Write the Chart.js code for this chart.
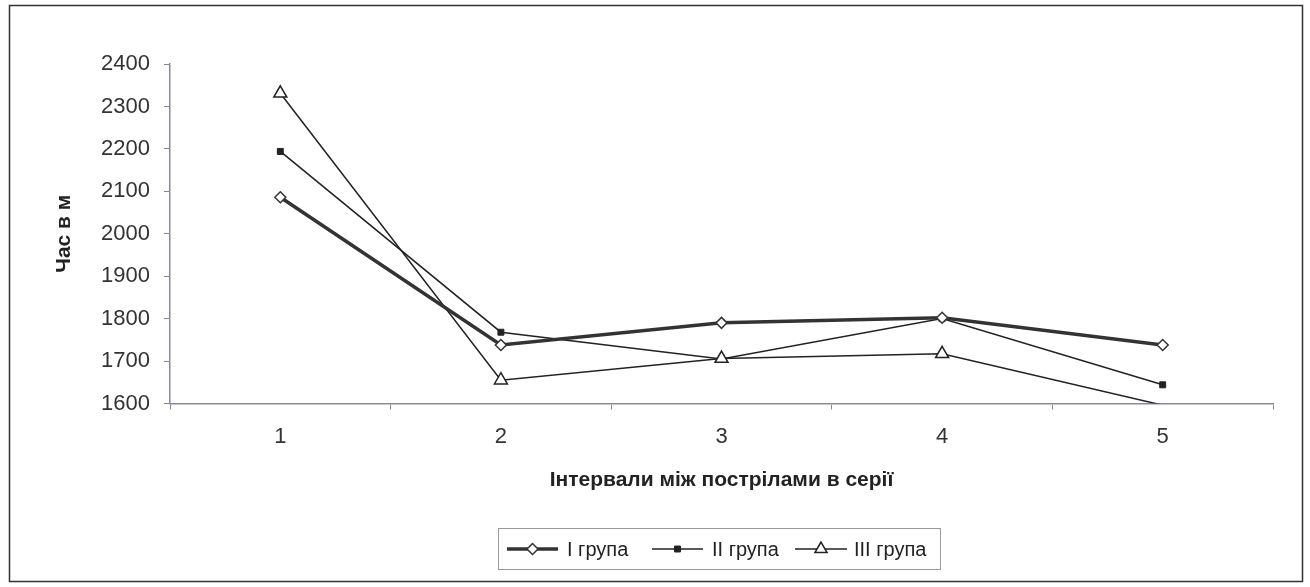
<!DOCTYPE html>
<html>
<head>
<meta charset="utf-8">
<script src="https://cdn.jsdelivr.net/npm/chart.js@4.4.0/dist/chart.umd.min.js"></script>
<style>
  html, body { margin: 0; padding: 0; background: #fff; }
  #wrap { width: 1310px; height: 587px; }
</style>
</head>
<body>
<div id="wrap"><canvas id="lineChart" width="1310" height="587"></canvas></div>
<script>
// data
const intervals = ['1', '2', '3', '4', '5'];
const group1 = [2086, 1738, 1790, 1802, 1738];
const group2 = [2194, 1768, 1705, 1800, 1644];
const group3 = [2331, 1655, 1706, 1717, 1596];
const seriesNames = ['I група', 'II група', 'III група'];
const yTicks = [1600, 1700, 1800, 1900, 2000, 2100, 2200, 2300, 2400];

const FONT = "'Liberation Sans', Arial, sans-serif";

// frame round the whole chart + Excel style legend under it
const framePlugin = {
  id: 'frameAndLegend',
  afterDraw(chart) {
    const ctx = chart.ctx;
    ctx.save();
    ctx.strokeStyle = '#333';
    ctx.lineWidth = 1.5;
    ctx.strokeRect(9.5, 5.5, 1293, 576);

    // legend box
    ctx.strokeStyle = '#999';
    ctx.lineWidth = 1;
    ctx.strokeRect(498.5, 528.5, 442, 41);

    const cy = 549;
    const items = [
      { x0: 507, x1: 558, tx: 567 },
      { x0: 652, x1: 703, tx: 712 },
      { x0: 795, x1: 847, tx: 854 }
    ];
    chart.data.datasets.forEach((ds, i) => {
      const it = items[i];
      ctx.strokeStyle = ds.borderColor;
      ctx.lineWidth = ds.borderWidth;
      ctx.beginPath();
      ctx.moveTo(it.x0, cy);
      ctx.lineTo(it.x1, cy);
      ctx.stroke();
      ctx.fillStyle = ds.pointBackgroundColor;
      ctx.strokeStyle = ds.pointBorderColor;
      ctx.lineWidth = ds.pointBorderWidth;
      Chart.helpers.drawPoint(ctx, {
        pointStyle: ds.pointStyle,
        radius: ds.legendRadius,
        borderWidth: ds.pointBorderWidth
      }, (it.x0 + it.x1) / 2, cy);
      ctx.fillStyle = '#222';
      ctx.font = '20px ' + FONT;
      ctx.textBaseline = 'middle';
      ctx.textAlign = 'left';
      ctx.fillText(ds.label, it.tx, cy + 1);
    });
    ctx.restore();
  }
};

const ctx = document.getElementById('lineChart').getContext('2d');

new Chart(ctx, {
  type: 'line',
  data: {
    labels: intervals,
    datasets: [
      {
        label: seriesNames[0],
        data: group1,
        order: 0,
        borderColor: '#333',
        borderWidth: 3.5,
        pointStyle: 'rectRot',
        pointRadius: 5.5,
        legendRadius: 5.5,
        pointBackgroundColor: '#fff',
        pointBorderColor: '#333',
        pointBorderWidth: 1.5,
        tension: 0
      },
      {
        label: seriesNames[1],
        data: group2,
        order: 2,
        borderColor: '#222',
        borderWidth: 1.5,
        pointStyle: 'rect',
        pointRadius: 4.2,
        legendRadius: 4.2,
        pointBackgroundColor: '#222',
        pointBorderColor: '#222',
        pointBorderWidth: 1,
        tension: 0
      },
      {
        label: seriesNames[2],
        data: group3,
        order: 1,
        borderColor: '#222',
        borderWidth: 1.5,
        pointStyle: 'triangle',
        pointRadius: c => (c.raw < 1600 ? 0 : 7.5),
        legendRadius: 7,
        pointBackgroundColor: '#fff',
        pointBorderColor: '#222',
        pointBorderWidth: 1.5,
        tension: 0
      }
    ]
  },
  options: {
    responsive: false,
    animation: false,
    layout: {
      padding: { left: 20, top: 64, right: 37, bottom: 93.5 }
    },
    plugins: {
      legend: { display: false },
      tooltip: { enabled: false }
    },
    scales: {
      x: {
        offset: true,
        grid: {
          offset: true,
          drawOnChartArea: false,
          tickLength: 6,
          color: '#888'
        },
        border: { color: '#8a8aa0', width: 1.5 },
        ticks: {
          color: '#333',
          padding: 14,
          font: { family: FONT, size: 22 }
        },
        title: {
          display: true,
          text: 'Інтервали між пострілами в серії',
          color: '#222',
          font: { family: FONT, size: 21, weight: 'bold' },
          padding: { top: 0, bottom: 1 }
        },
        afterFit: s => { s.height = 90; }
      },
      y: {
        min: 1600,
        max: 2400,
        afterBuildTicks: s => { s.ticks = yTicks.map(v => ({ value: v })); },
        grid: {
          drawOnChartArea: false,
          tickLength: 6,
          color: '#888'
        },
        border: { color: '#8a8aa0', width: 1.5 },
        ticks: {
          color: '#333',
          padding: 14,
          font: { family: FONT, size: 22 },
          callback: v => String(v)
        },
        title: {
          display: true,
          text: 'Час в м',
          color: '#222',
          font: { family: FONT, size: 21, weight: 'bold' },
          padding: { top: 32, bottom: 0 }
        },
        afterFit: s => { s.width = 150; }
      }
    }
  },
  plugins: [framePlugin]
});
</script>
</body>
</html>
